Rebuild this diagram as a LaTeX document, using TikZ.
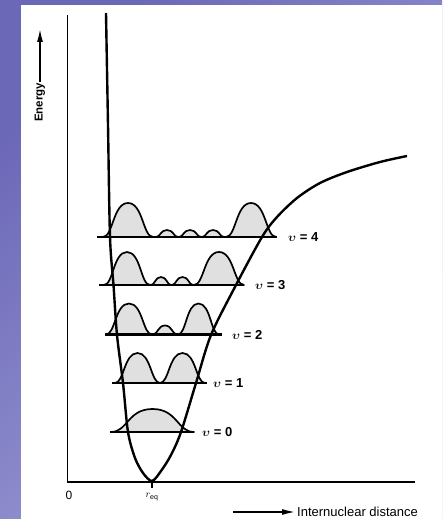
\documentclass[tikz,border=0pt]{standalone}
\usepackage{fontspec}
\setmainfont{Liberation Sans}
\usepackage{tikz}
\usetikzlibrary{arrows.meta,positioning}
\definecolor{bgdark}{RGB}{108,104,184}
\definecolor{bglight}{RGB}{165,165,218}
\definecolor{lobegray}{RGB}{224,224,224}

\begin{document}
\begin{tikzpicture}[
  x=1pt, y=-1pt,
  font=\fontsize{13}{15}\selectfont,
  axis/.style={line width=1.8pt},
  curve/.style={line width=2.4pt, line join=round},
  level/.style={line width=2.3pt},
  lobe/.style={fill=lobegray, draw=black, line width=1.7pt, line join=round},
  lvl/.style={anchor=west, inner sep=0pt, font=\bfseries\boldmath\fontsize{13}{15}\selectfont},
  arr/.style={-{Latex[length=14pt,width=6pt]}, line width=1.9pt}
]
\useasboundingbox (0,0) rectangle (442,519);
\shade[top color=bgdark, bottom color=bglight, shading angle=45] (0,0) rectangle (442,519);
\fill[white] (21,5) rectangle (442,519);

% axes and axis labels
\coordinate (O) at (67.5,482);
\draw[axis] (67.5,15) -- (O) -- (415,482);
\draw[axis] (152,482) -- (152,488);
\node[font=\fontsize{12}{14}\selectfont] (zero) at (69,495) {0};
\node[font=\fontsize{10}{12}\selectfont] (req) at (152,497) {$r_{\mathrm{eq}}$};
\node[rotate=90, inner sep=1pt, font=\bfseries\fontsize{11.5}{13}\selectfont] (ylab) at (40,102.5) {Energy};
\coordinate (ytip) at (40,28);
\draw[arr] (ylab.east) -- (ytip);
\node[anchor=west, inner sep=1pt] (xlab) at (296,512) {Internuclear distance};
\coordinate (xtail) at (233,512);
\draw[arr] (xtail) -- (xlab.west);

% probability densities
\foreach \lev/\lobes in {
    432/{111/194/23},
    383/{115/160/30, 160/205/30},
    334.5/{106/152/31, 153/177/9, 178/219/31},
    285/{104/150/33, 151/171/8, 172/193/8, 194/244/33},
    237/{103/153/34, 156/178/7, 179/201/7, 202/224/7, 226/276/34}} {
  \foreach \a/\b/\h in \lobes
    \filldraw[lobe] (\a,\lev) .. controls ({\a+0.2*(\b-\a)},\lev) and ({\a+0.2*(\b-\a)},{\lev-\h})
      .. ({(\a+\b)/2},{\lev-\h}) .. controls ({\b-0.2*(\b-\a)},{\lev-\h}) and ({\b-0.2*(\b-\a)},\lev)
      .. (\b,\lev) -- cycle;
}

% levels
\foreach \n/\lev/\xa/\xb/\xl in {0/432/110/194/202, 1/383/112/207/213,
    2/334.5/105/222/232, 3/285/99/244/255, 4/237/97/277/288} {
  \draw[level] (\xa,\lev) -- (\xb,\lev);
  \node[lvl] (v\n) at (\xl,\lev) {$\upsilon$ = \n};
}

% potential curve
\draw[curve] plot[smooth, tension=0.5] coordinates {(106,13) (108,125) (110,237)
  (113.5,285) (117,335) (123,383) (128,432) (135,458) (143,473) (152,481)
  (161,471) (171,455) (181,432) (196,383) (211,335) (236,285) (262,237)
  (277,217) (297,198) (320,183) (347,172) (380,162) (407,156)};

\end{tikzpicture}
\end{document}
